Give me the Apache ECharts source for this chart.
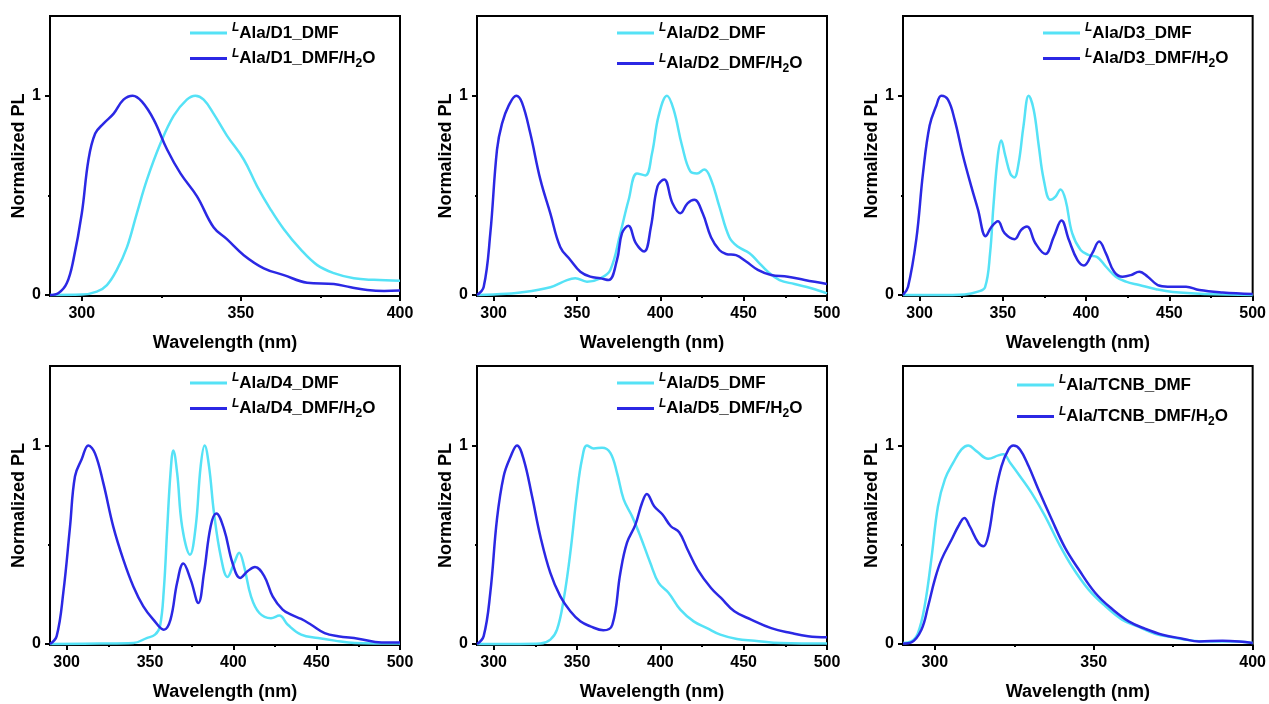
<!DOCTYPE html>
<html>
<head>
<meta charset="utf-8">
<title>Normalized PL spectra</title>
<script src="https://cdn.jsdelivr.net/npm/echarts@6/dist/echarts.min.js"></script>
<style>
  html, body { margin: 0; padding: 0; background: #fff; }
  #chart { width: 1269px; height: 704px; }
</style>
</head>
<body>
<div id="chart"></div>
<script>
// Emission spectra: [wavelength (nm), normalized intensity]
const d1Dmf = [[290,0],[300,0.002],[304.7,0.017],[307.9,0.05],[311,0.126],[314.2,0.24],[317.3,0.41],[320.5,0.58],[324.7,0.76],[328.9,0.9],[333,0.98],[335.7,1],[338.3,0.98],[341.4,0.91],[345.6,0.8],[350.9,0.68],[355.1,0.545],[359.3,0.43],[363.5,0.33],[368.7,0.23],[374,0.15],[379.2,0.11],[385.5,0.084],[391.8,0.076],[400,0.072]];
const d1Water = [[290,0],[292.7,0.01],[295.3,0.06],[297.4,0.18],[300,0.41],[302.1,0.68],[304.2,0.81],[306.8,0.86],[310,0.91],[313.1,0.98],[316,1],[318.9,0.97],[322.6,0.88],[326.8,0.73],[331,0.61],[336.2,0.495],[341.4,0.34],[345.6,0.28],[350.9,0.2],[357.2,0.134],[363.5,0.1],[370.8,0.062],[379.2,0.055],[384.5,0.039],[389.7,0.025],[395,0.02],[400,0.022]];

const d2Dmf = [[290,0],[300,0.003],[316,0.013],[334,0.039],[344,0.075],[349,0.084],[356,0.067],[364,0.084],[370,0.126],[376,0.31],[381,0.478],[386,0.61],[391,0.6],[395,0.71],[399,0.9],[404,1],[408,0.93],[413,0.75],[418,0.62],[422,0.61],[426.4,0.63],[430.4,0.58],[435.4,0.445],[441.4,0.29],[446.4,0.243],[453.5,0.21],[458.5,0.168],[464.5,0.117],[471.5,0.075],[480.5,0.055],[490.6,0.034],[500,0.008]];
const d2Water = [[290,0],[294,0.04],[298,0.31],[302,0.73],[305,0.86],[309,0.95],[313.6,1],[317,0.965],[322,0.81],[328,0.58],[334,0.41],[340,0.24],[346,0.176],[352,0.117],[358,0.092],[364,0.084],[369,0.075],[374,0.176],[377,0.31],[380.8,0.347],[385.3,0.26],[390.3,0.218],[394.3,0.34],[398.3,0.545],[402.3,0.58],[407.3,0.46],[412,0.41],[416.3,0.46],[420.4,0.478],[425.4,0.41],[430.4,0.29],[435.4,0.226],[439.4,0.206],[445.4,0.2],[451.5,0.168],[458.5,0.126],[466.5,0.1],[476.5,0.092],[486.6,0.075],[500,0.055]];

const d3Dmf = [[290,0],[311,0],[327,0.003],[335,0.017],[339.3,0.04],[342.3,0.21],[344.3,0.445],[347,0.7],[349,0.775],[351.4,0.7],[354.4,0.61],[356.8,0.59],[359.4,0.66],[362.4,0.85],[365.5,1],[368.5,0.93],[371.5,0.75],[374.5,0.58],[378.5,0.478],[381.6,0.494],[384.6,0.53],[387.6,0.478],[391.6,0.31],[396.7,0.226],[401.7,0.2],[406.7,0.19],[411.8,0.143],[417.8,0.092],[423.9,0.067],[431.9,0.05],[442,0.029],[452,0.015],[472,0.005],[500,0]];
const d3Water = [[290,0],[293,0.04],[298,0.28],[302,0.61],[306,0.85],[310,0.95],[313,1],[317,0.98],[321,0.88],[326,0.7],[331,0.545],[335,0.43],[339.7,0.295],[343,0.34],[347,0.37],[351,0.31],[357,0.28],[361,0.327],[364.5,0.344],[369.5,0.26],[375.5,0.206],[380.6,0.293],[385.2,0.374],[389.6,0.277],[394.7,0.176],[398.7,0.148],[403.7,0.21],[407.8,0.268],[411.8,0.21],[416.8,0.117],[421.9,0.092],[426.9,0.1],[431.9,0.117],[437,0.092],[443,0.05],[449,0.042],[460,0.042],[468,0.025],[482,0.013],[500,0.005]];

const d4Dmf = [[290,0],[320,0.002],[340,0.005],[348,0.03],[353,0.047],[356,0.09],[358.3,0.274],[360.3,0.576],[362.3,0.86],[364,0.975],[366.3,0.86],[369.3,0.59],[374,0.45],[377.4,0.59],[380.4,0.896],[382.8,1],[385.4,0.896],[388.4,0.66],[392.5,0.44],[396.5,0.338],[400.5,0.408],[403.5,0.46],[406.5,0.39],[410.6,0.24],[415.6,0.156],[422.6,0.13],[427.6,0.143],[432.7,0.097],[440.7,0.047],[450.8,0.03],[460.8,0.017],[472.9,0.005],[500,0.002]];
const d4Water = [[290,0],[294,0.04],[298,0.26],[302,0.59],[305,0.845],[309,0.93],[313,1],[317,0.96],[322,0.81],[328,0.59],[334,0.425],[340,0.29],[346,0.19],[352,0.123],[358.3,0.072],[362.3,0.123],[366.3,0.31],[370,0.405],[374.4,0.324],[379,0.207],[382.4,0.358],[386.4,0.593],[389.8,0.657],[394.5,0.576],[399.5,0.408],[404.1,0.333],[408.5,0.366],[413,0.388],[418.6,0.341],[423.6,0.24],[429.6,0.173],[434.7,0.148],[440.7,0.126],[446.7,0.097],[454.8,0.055],[462.8,0.039],[474.9,0.027],[489,0.008],[500,0.008]];

const d5Dmf = [[290,0],[316,0],[328,0.002],[334,0.022],[338,0.072],[342,0.224],[346,0.46],[350,0.76],[353,0.93],[356,1],[360,0.985],[365,0.988],[370,0.963],[374,0.862],[378,0.728],[383,0.644],[388,0.543],[394,0.408],[399,0.308],[405,0.257],[412,0.173],[420,0.114],[428,0.08],[436,0.047],[446,0.025],[456.5,0.017],[472.5,0.005],[500,0.002]];
const d5Water = [[290,0],[294,0.04],[298,0.26],[302,0.63],[306,0.845],[310,0.94],[314,1],[318,0.93],[323,0.745],[328,0.543],[334,0.358],[340,0.24],[346,0.165],[352,0.114],[358,0.089],[365.8,0.069],[371.2,0.097],[376,0.358],[380,0.51],[385,0.6],[389,0.71],[391.9,0.756],[396.3,0.694],[401.3,0.652],[406.3,0.593],[411.3,0.563],[416.3,0.476],[422.4,0.375],[430.4,0.282],[436.4,0.232],[444.4,0.165],[454.5,0.123],[466.5,0.08],[478.5,0.055],[488.6,0.039],[500,0.034]];

const tcnbDmf = [[290,0.005],[292.6,0.013],[294.7,0.055],[296.8,0.19],[298.9,0.425],[301,0.694],[303.2,0.83],[305.8,0.913],[308.4,0.98],[310.5,1],[313.2,0.97],[316.8,0.933],[320,0.95],[321.6,0.955],[323.7,0.913],[326.8,0.845],[330.5,0.76],[334.7,0.644],[338.9,0.51],[343.2,0.39],[348.4,0.274],[353.7,0.19],[358.9,0.123],[364.2,0.086],[369.5,0.05],[374.7,0.034],[381,0.017],[387.4,0.012],[393.7,0.012],[400,0.005]];
const tcnbWater = [[290,0.002],[292.6,0.008],[295.8,0.072],[297.9,0.19],[300,0.324],[302.1,0.425],[305.3,0.526],[307.4,0.593],[309.3,0.635],[311,0.593],[313.7,0.51],[315.3,0.492],[316.8,0.543],[318.9,0.745],[321,0.896],[323.2,0.98],[324.7,1],[326.8,0.98],[329.5,0.896],[332.6,0.778],[336.8,0.627],[341,0.484],[345.3,0.375],[350.5,0.257],[355.8,0.176],[361,0.114],[366.3,0.076],[371.6,0.047],[377.9,0.027],[383.2,0.013],[390.5,0.017],[395.8,0.013],[400,0.005]];

// Sample names per panel
const sampleNames = ['D1', 'D2', 'D3', 'D4', 'D5', 'TCNB'];
const dmfSeries = [d1Dmf, d2Dmf, d3Dmf, d4Dmf, d5Dmf, tcnbDmf];
const waterSeries = [d1Water, d2Water, d3Water, d4Water, d5Water, tcnbWater];
const xMaxima = [400, 500, 500, 500, 500, 400];
const shortTicks = [300, 350, 400];
const shortMinor = [325, 375];
const longTicks = [300, 350, 400, 450, 500];
const longMinor = [325, 375, 425, 475];
const yTicks = [0, 1];
const yMinor = [0.5];

const xLabelName = 'Wavelength (nm)';
const yLabelName = 'Normalized PL';

const COLOR_DMF = '#55e2f6';
const COLOR_WATER = '#2b28e4';
const FONT = '"Liberation Sans", Arial, sans-serif';

// Plot-box layout
const cols = [50, 477, 903];
const rows = [{ top: 16, height: 280 }, { top: 366, height: 279 }];
const legendLayout = [
  { left: 190, top: 22, gap: 6 },
  { left: 617, top: 22, gap: 11 },
  { left: 1043, top: 22, gap: 6 },
  { left: 190, top: 372, gap: 6 },
  { left: 617, top: 372, gap: 6 },
  { left: 1017, top: 374, gap: 12 }
];

const grids = [], xAxes = [], yAxes = [], series = [], legends = [];

sampleNames.forEach((s, i) => {
  const r = rows[Math.floor(i / 3)];
  grids.push({
    left: cols[i % 3], top: r.top, width: 350, height: r.height,
    show: true, borderColor: '#000', borderWidth: 2, backgroundColor: 'transparent'
  });
  const major = xMaxima[i] === 400 ? shortTicks : longTicks;
  const minor = xMaxima[i] === 400 ? shortMinor : longMinor;
  // main x axis with labels and major ticks
  xAxes.push({
    type: 'value', gridIndex: i, min: 290, max: xMaxima[i], position: 'bottom',
    name: xLabelName, nameLocation: 'middle', nameGap: 38,
    nameTextStyle: { fontFamily: FONT, fontWeight: 'bold', fontSize: 18, color: '#000' },
    axisLine: { show: true, onZero: false, lineStyle: { color: '#000', width: 2 } },
    axisTick: { show: true, inside: false, length: 5, customValues: major, lineStyle: { color: '#000', width: 2 } },
    axisLabel: { show: true, margin: 10, customValues: major, fontFamily: FONT, fontWeight: 'bold', fontSize: 16, color: '#000' },
    splitLine: { show: false }
  });
  // companion x axis carrying the minor ticks
  xAxes.push({
    type: 'value', gridIndex: i, min: 290, max: xMaxima[i], position: 'bottom',
    axisLine: { show: false, onZero: false },
    axisTick: { show: true, inside: false, length: 2, customValues: minor, lineStyle: { color: '#000', width: 2 } },
    axisLabel: { show: false }, splitLine: { show: false }
  });
  yAxes.push({
    type: 'value', gridIndex: i, min: -0.005, max: 1.4, position: 'left',
    name: yLabelName, nameLocation: 'middle', nameGap: 20, nameRotate: 90,
    nameTextStyle: { fontFamily: FONT, fontWeight: 'bold', fontSize: 18, color: '#000' },
    axisLine: { show: true, onZero: false, lineStyle: { color: '#000', width: 2 } },
    axisTick: { show: true, inside: false, length: 5, customValues: yTicks, lineStyle: { color: '#000', width: 2 } },
    axisLabel: { show: true, margin: 9, customValues: yTicks, fontFamily: FONT, fontWeight: 'bold', fontSize: 16, color: '#000' },
    splitLine: { show: false }
  });
  yAxes.push({
    type: 'value', gridIndex: i, min: -0.005, max: 1.4, position: 'left',
    axisLine: { show: false, onZero: false },
    axisTick: { show: true, inside: false, length: 2, customValues: yMinor, lineStyle: { color: '#000', width: 2 } },
    axisLabel: { show: false }, splitLine: { show: false }
  });

  const nDmf = 'Ala/' + s + '_DMF';
  const nWater = 'Ala/' + s + '_DMF/H2O';
  const common = {
    type: 'line', xAxisIndex: i * 2, yAxisIndex: i * 2, showSymbol: false, symbol: 'none',
    smooth: 0.4, animation: false, clip: true
  };
  series.push(Object.assign({}, common, {
    name: nDmf, data: dmfSeries[i], z: 2,
    lineStyle: { color: COLOR_DMF, width: 2.5 }, itemStyle: { color: COLOR_DMF }
  }));
  series.push(Object.assign({}, common, {
    name: nWater, data: waterSeries[i], z: 3,
    lineStyle: { color: COLOR_WATER, width: 2.5 }, itemStyle: { color: COLOR_WATER }
  }));

  const lg = legendLayout[i];
  legends.push({
    show: true, type: 'plain',
    data: [nDmf, nWater], orient: 'vertical', left: lg.left, top: lg.top,
    icon: 'rect', itemWidth: 37, itemHeight: 3, itemGap: lg.gap, padding: 0, selectedMode: false,
    formatter: name => '{i|L}{t|' + name.replace('H2O', 'H}{s|2}{t|O') + '}',
    textStyle: {
      fontFamily: FONT, fontWeight: 'bold', fontSize: 17, color: '#000',
      rich: {
        t: { fontFamily: FONT, fontWeight: 'bold', fontSize: 17, color: '#000', lineHeight: 22 },
        i: { fontFamily: FONT, fontWeight: 'bold', fontStyle: 'italic', fontSize: 12, color: '#000', lineHeight: 14, verticalAlign: 'top' },
        s: { fontFamily: FONT, fontWeight: 'bold', fontSize: 12, color: '#000', lineHeight: 10, verticalAlign: 'bottom' }
      }
    }
  });
});

const chart = echarts.init(document.getElementById('chart'), null, { renderer: 'canvas' });
chart.setOption({
  backgroundColor: '#fff',
  animation: false,
  grid: grids,
  xAxis: xAxes,
  yAxis: yAxes,
  legend: legends,
  series: series
});
</script>
</body>
</html>
